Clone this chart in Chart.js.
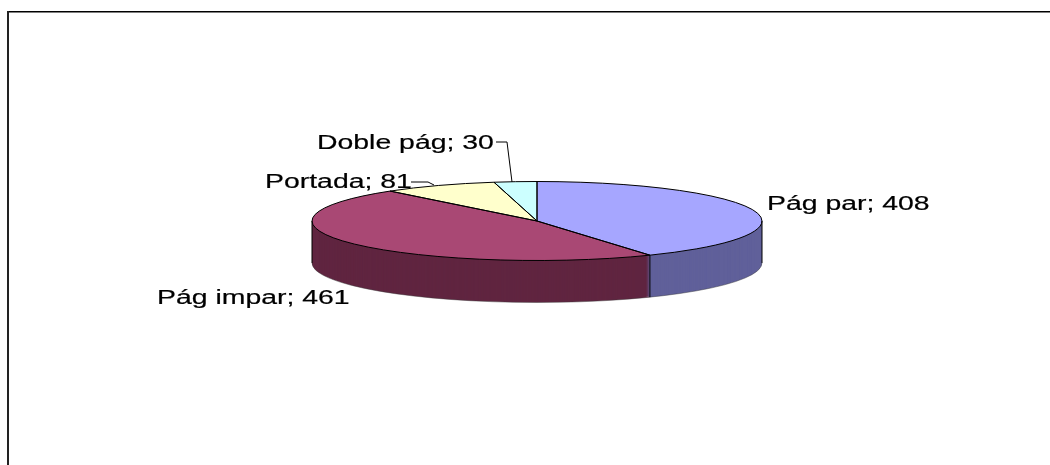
<!DOCTYPE html>
<html>
<head>
<meta charset="utf-8">
<script src="https://cdn.jsdelivr.net/npm/chart.js@4"></script>
<style>
  html, body { margin: 0; padding: 0; background: #fff; }
  canvas { display: block; }
</style>
</head>
<body>
<canvas id="grafico" width="1050" height="465"></canvas>
<script>
const categorias = ["Pág par", "Pág impar", "Portada", "Doble pág"];
const valores = [408, 461, 81, 30];
const coloresCara = ["#A6A6FF", "#A94874", "#FFFFCC", "#CCFFFF"];
const coloresLado = ["#60609A", "#602540", "#99997A", "#7A9999"];

// where the labels sit, and their leader lines
const posEtiquetas = [[767, 210], [157, 304], [265, 188], [317, 149]];
const guias = [
  null,
  null,
  [[411, 182], [428, 182], [434, 185]],
  [[496, 142], [507, 142], [512, 182]],
];

const centroY = 221;
const radioY = 39.5;
const alto3d = 42;
const estiraTexto = 1.42; // the labels in the picture are stretched sideways

// pie is laid out as a circle, then squashed to look tilted
function aplastar(ctx, arc, dy) {
  const aplaste = radioY / arc.outerRadius;
  ctx.translate(arc.x, centroY + dy);
  ctx.scale(1, aplaste);
  ctx.translate(-arc.x, -arc.y);
}

const pie3d = {
  id: "pie3d",
  beforeDatasetsDraw(chart) {
    const ctx = chart.ctx;
    const arcos = chart.getDatasetMeta(0).data;
    for (let d = alto3d; d > 0; d--) {
      arcos.forEach((arc, i) => {
        const guardado = arc.options;
        arc.options = { ...guardado, backgroundColor: coloresLado[i] };
        ctx.save();
        aplastar(ctx, arc, d);
        arc.draw(ctx);
        ctx.restore();
        arc.options = guardado;
      });
    }
    ctx.save();
    aplastar(ctx, arcos[0], 0);
  },
  afterDatasetsDraw(chart) {
    const ctx = chart.ctx;
    ctx.restore();
    const arcos = chart.getDatasetMeta(0).data;
    const cx = arcos[0].x;
    const rx = arcos[0].outerRadius;

    ctx.save();
    ctx.lineWidth = 1;

    // wall outline, only faint at the bottom
    ctx.strokeStyle = "rgba(60,60,60,0.45)";
    ctx.beginPath();
    ctx.ellipse(cx, centroY + alto3d, rx, radioY, 0, 0, Math.PI);
    ctx.stroke();

    ctx.strokeStyle = "#000";
    ctx.beginPath();
    ctx.moveTo(cx - rx, centroY);
    ctx.lineTo(cx - rx, centroY + alto3d);
    ctx.moveTo(cx + rx, centroY);
    ctx.lineTo(cx + rx, centroY + alto3d);
    arcos.forEach((arc) => {
      if (Math.sin(arc.endAngle) > 0.02) {
        const x = cx + rx * Math.cos(arc.endAngle);
        const y = centroY + radioY * Math.sin(arc.endAngle);
        ctx.moveTo(x, y);
        ctx.lineTo(x, y + alto3d);
      }
    });
    ctx.stroke();

    // top face outlines
    arcos.forEach((arc) => {
      ctx.beginPath();
      ctx.moveTo(cx, centroY);
      ctx.ellipse(cx, centroY, rx, radioY, 0, arc.startAngle, arc.endAngle);
      ctx.closePath();
      ctx.stroke();
    });

    // labels
    ctx.fillStyle = "#000";
    ctx.font = "20px 'Liberation Sans'";
    ctx.textBaseline = "alphabetic";
    categorias.forEach((cat, i) => {
      const texto = cat + "; " + valores[i];
      ctx.save();
      ctx.translate(posEtiquetas[i][0], posEtiquetas[i][1]);
      ctx.scale(estiraTexto, 1);
      ctx.lineWidth = 0.2;
      ctx.strokeStyle = "#000";
      ctx.fillText(texto, 0, 0);
      ctx.strokeText(texto, 0, 0);
      ctx.restore();
      if (guias[i]) {
        ctx.beginPath();
        guias[i].forEach((p, k) => (k ? ctx.lineTo(p[0], p[1]) : ctx.moveTo(p[0], p[1])));
        ctx.stroke();
      }
    });
    ctx.restore();
  },
  afterDraw(chart) {
    // frame: heavier on the left, open on the right
    const ctx = chart.ctx;
    ctx.save();
    ctx.fillStyle = "#000";
    ctx.fillRect(7, 11, 1043, 1.5);
    ctx.fillStyle = "#222";
    ctx.fillRect(7, 11, 2, 454);
    ctx.restore();
  },
};

new Chart(document.getElementById("grafico"), {
  type: "pie",
  data: {
    labels: categorias,
    datasets: [
      {
        data: valores,
        backgroundColor: coloresCara,
        borderWidth: 0,
      },
    ],
  },
  options: {
    responsive: false,
    animation: false,
    layout: { padding: { left: 312, right: 288, top: 0, bottom: 15 } },
    plugins: {
      legend: { display: false },
      tooltip: { enabled: false },
    },
  },
  plugins: [pie3d],
});
</script>
</body>
</html>
